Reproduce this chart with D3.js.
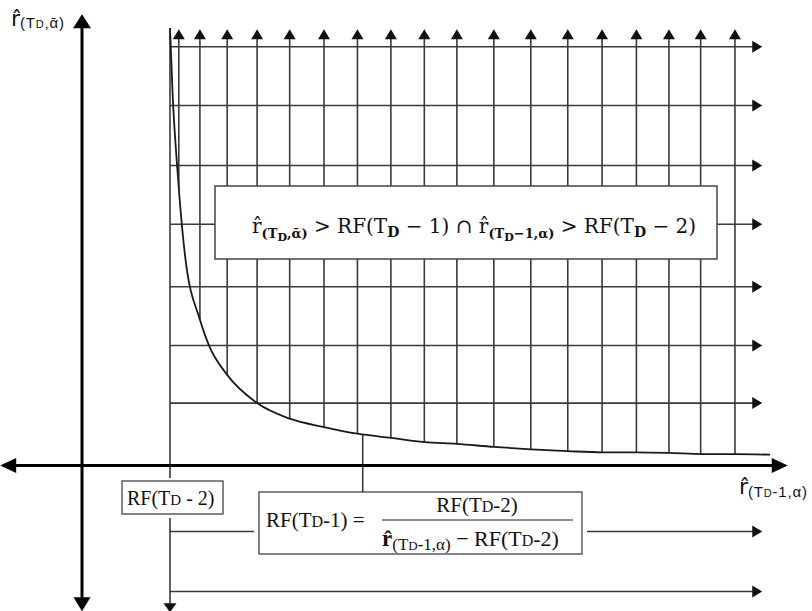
<!DOCTYPE html>
<html>
<head>
<meta charset="utf-8">
<script src="https://cdn.jsdelivr.net/npm/d3@7"></script>
<style>
  body { margin: 0; background: #fff; }
  text { white-space: pre; }
</style>
</head>
<body>
<div id="chart"></div>
<script>
// Valeurs (unités du graphique : x = r̂(TD-1,α), y = r̂(TD,ᾱ))
const rf2 = 1.0;                 // RF(TD-2), droite verticale
const rf1X = 3.19;               // point où RF(TD-1) touche la courbe
const rf1Y = 0.51;
// quadrillage vertical (flèches vers le haut), chaque trait s'arrête sur la courbe
const gridX    = [1.10, 1.34, 1.65, 1.99, 2.36, 2.75, 3.13, 3.51, 3.89, 4.26, 4.68, 5.10, 5.52, 5.91, 6.30, 6.67, 7.03, 7.42];
const gridXEnd = [4.60, 2.43, 1.51, 1.04, 0.78, 0.64, 0.53, 0.46, 0.39, 0.36, 0.31, 0.27, 0.24, 0.22, 0.22, 0.21, 0.19, 0.19];
const gridTop = 7.27;
// quadrillage horizontal (flèches vers la droite)
const gridY = [1.04, 2.0, 2.98, 4.02, 5.0, 6.0, 6.98];
const gridRight = 7.73;
// courbe RF(TD-1)
const curveX = [1.00, 1.03, 1.08, 1.11, 1.17, 1.34, 1.44, 1.65, 1.99, 2.36, 2.75, 3.13, 3.51, 3.89, 4.26, 4.68, 5.10, 5.52, 5.91, 6.30, 6.67, 7.05, 7.42, 7.82];
const curveY = [7.29, 6.18, 5.01, 4.43, 3.51, 2.43, 2.01, 1.51, 1.04, 0.78, 0.64, 0.53, 0.46, 0.39, 0.36, 0.31, 0.27, 0.24, 0.22, 0.22, 0.21, 0.19, 0.19, 0.18];
// lignes sous l'axe
const belowY = [-1.1, -2.1];
// étendue des axes
const axisXExt = [-0.93, 8.02];
const axisYExt = [-2.43, 7.52];

const width = 812, height = 611;
const svg = d3.select('#chart').append('svg')
  .attr('width', width).attr('height', height);

const x = d3.scaleLinear().domain([0, 8]).range([82, 786]);
const y = d3.scaleLinear().domain([0, 7]).range([465.5, 45.5]);

const gridCol = '#3a3a3a';

// petites flèches
function arrow(tx, ty, dir, len, half, col) {
  let pts;
  if (dir === 'up') pts = [[tx, ty], [tx - half, ty + len], [tx + half, ty + len]];
  if (dir === 'down') pts = [[tx, ty], [tx - half, ty - len], [tx + half, ty - len]];
  if (dir === 'right') pts = [[tx, ty], [tx - len, ty - half], [tx - len, ty + half]];
  if (dir === 'left') pts = [[tx, ty], [tx + len, ty - half], [tx + len, ty + half]];
  svg.append('path').attr('d', 'M' + pts.join('L') + 'Z').attr('fill', col);
}
function seg(x1, y1, x2, y2, col, w) {
  svg.append('line')
    .attr('x1', x1).attr('y1', y1).attr('x2', x2).attr('y2', y2)
    .attr('stroke', col).attr('stroke-width', w);
}

// horizontales
gridY.forEach(v => {
  seg(x(rf2), y(v), x(gridRight) - 9, y(v), gridCol, 1.6);
  arrow(x(gridRight), y(v), 'right', 10, 6, '#111');
});
// verticales
gridX.forEach((v, i) => {
  seg(x(v), y(gridTop) + 8, x(v), y(gridXEnd[i]), gridCol, 1.6);
  arrow(x(v), y(gridTop), 'up', 10, 6, '#111');
});

// droite RF(TD-2)
seg(x(rf2), y(7.29), x(rf2), 478, gridCol, 1.6);
seg(x(rf2), 518, x(rf2), y(axisYExt[0]) - 7, gridCol, 1.6);
arrow(x(rf2), y(axisYExt[0]) + 1, 'down', 9, 6.5, '#111');

// lignes sous l'axe
seg(x(rf2), y(belowY[0]), 254, y(belowY[0]), gridCol, 1.6);
seg(587, y(belowY[0]), x(gridRight) - 9, y(belowY[0]), gridCol, 1.6);
arrow(x(gridRight), y(belowY[0]), 'right', 10, 6, '#111');
seg(x(rf2), y(belowY[1]), x(gridRight) - 9, y(belowY[1]), gridCol, 1.6);
arrow(x(gridRight), y(belowY[1]), 'right', 10, 6, '#111');

// repère vers la formule de RF(TD-1)
seg(x(rf1X), y(rf1Y), x(rf1X), 492, gridCol, 1.6);

// courbe
const curveData = curveX.map((v, i) => [v, curveY[i]]);
svg.append('path')
  .datum(curveData)
  .attr('fill', 'none')
  .attr('stroke', '#1a1a1a')
  .attr('stroke-width', 1.8)
  .attr('d', d3.line().x(d => x(d[0])).y(d => y(d[1])).curve(d3.curveMonotoneX));

// axes principaux
seg(x(0), y(axisYExt[1]) + 12, x(0), y(axisYExt[0]) - 13, '#000', 3);
arrow(x(0), y(axisYExt[1]), 'up', 14, 9, '#000');
arrow(x(0), y(axisYExt[0]), 'down', 14, 8.5, '#000');
seg(x(axisXExt[0]) + 13, y(0), x(axisXExt[1]) - 13, y(0), '#000', 3);
arrow(x(axisXExt[1]), y(0), 'right', 16, 7.5, '#000');
arrow(x(axisXExt[0]), y(0), 'left', 16, 7.5, '#000');

// texte composé
function rich(px, py, parts, family, anchor) {
  const t = svg.append('text')
    .attr('x', px).attr('y', py)
    .attr('font-family', family)
    .attr('fill', '#111')
    .attr('text-anchor', anchor || 'start');
  let cur = 0;
  parts.forEach(p => {
    const sh = p.sh || 0;
    const ts = t.append('tspan')
      .attr('dy', sh - cur)
      .attr('font-size', p.s)
      .attr('font-weight', p.w || 'normal')
      .attr('letter-spacing', p.ls || 0)
      .text(p.t);
    if (p.f) ts.attr('font-family', p.f);
    cur = sh;
  });
  return t;
}

// boîte de la zone
svg.append('rect').attr('x', 215).attr('y', 186).attr('width', 502).attr('height', 73)
  .attr('fill', '#fff').attr('stroke', '#444').attr('stroke-width', 1.5);
const serifM = 'DejaVu Serif';
rich(252, 233, [
  { t: 'r\u0302', s: 20 },
  { t: '(T', s: 13, sh: 5, w: 'bold' },
  { t: 'D', s: 11, sh: 8, w: 'bold' },
  { t: ',\u1FB1)', s: 13, sh: 5, w: 'bold' },
  { t: ' > RF(T', s: 20 },
  { t: 'D', s: 14, sh: 4, w: 'bold' },
  { t: ' \u2212 1) \u2229 r\u0302', s: 20 },
  { t: '(T', s: 13, sh: 5, w: 'bold' },
  { t: 'D', s: 11, sh: 8, w: 'bold' },
  { t: '\u22121,\u03B1)', s: 13, sh: 5, w: 'bold' },
  { t: ' > RF(T', s: 20 },
  { t: 'D', s: 14, sh: 4, w: 'bold' },
  { t: ' \u2212 2)', s: 20 }
], serifM);

// boîte RF(TD-2)
const serifT = 'Liberation Serif';
svg.append('rect').attr('x', 122).attr('y', 481).attr('width', 101).attr('height', 33)
  .attr('fill', '#fff').attr('stroke', '#444').attr('stroke-width', 1.3);
rich(127, 505, [
  { t: 'RF(T', s: 20 }, { t: 'D', s: 15 }, { t: ' - 2)', s: 20 }
], serifT);

// boîte RF(TD-1)
svg.append('rect').attr('x', 259).attr('y', 492).attr('width', 323).attr('height', 62)
  .attr('fill', '#fff').attr('stroke', '#444').attr('stroke-width', 1.3);
rich(266, 527, [
  { t: 'RF(T', s: 21 }, { t: 'D', s: 16 }, { t: '-1) =', s: 21 }
], serifT);
rich(477, 512, [
  { t: 'RF(T', s: 21 }, { t: 'D', s: 16 }, { t: '-2)', s: 21 }
], serifT, 'middle');
seg(382, 520, 573, 520, '#222', 1.2);
rich(382, 546, [
  { t: 'r\u0302', s: 23, w: 'bold' },
  { t: '(T', s: 17, sh: 4 },
  { t: 'D', s: 13, sh: 4 },
  { t: '-1,\u03B1)', s: 17, sh: 4 },
  { t: ' \u2212 RF(T', s: 22 },
  { t: 'D', s: 16 },
  { t: '-2)', s: 22 }
], serifT);

// titres des axes
const sans = 'Liberation Sans';
rich(11, 26, [
  { t: 'r\u0302', s: 22, f: 'DejaVu Sans' },
  { t: '(T', s: 15, sh: 2, ls: 0.8 },
  { t: 'D', s: 11, sh: 2, ls: 0.8 },
  { t: ',\u1FB1)', s: 15, sh: 2, ls: 0.8 }
], sans);
rich(739, 494, [
  { t: 'r\u0302', s: 22, f: 'DejaVu Sans' },
  { t: '(T', s: 15, sh: 3, ls: 0.8 },
  { t: 'D', s: 11, sh: 3, ls: 0.8 },
  { t: '-1,\u03B1)', s: 15, sh: 3, ls: 0.8 }
], sans);
</script>
</body>
</html>
